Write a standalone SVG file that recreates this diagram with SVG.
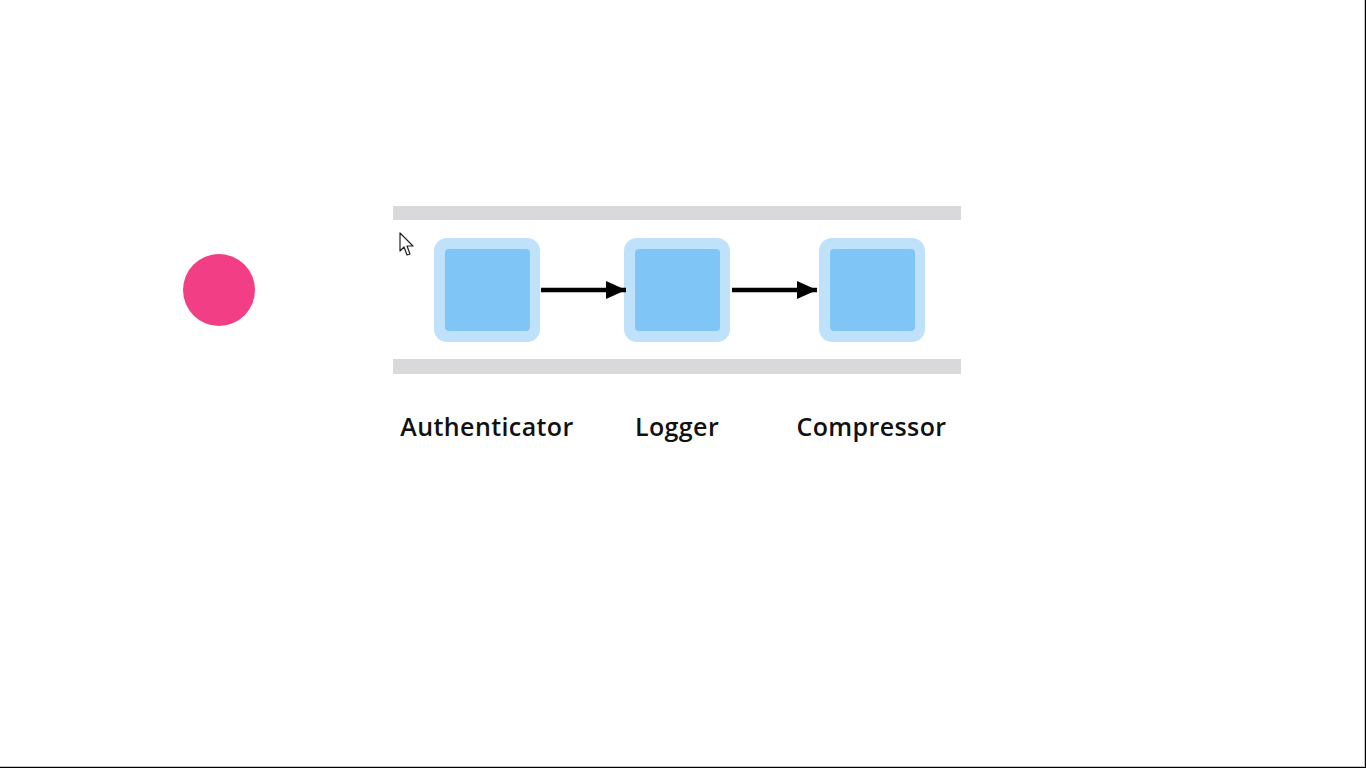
<svg xmlns="http://www.w3.org/2000/svg" width="1366" height="768" viewBox="0 0 1366 768">
<defs>
<style>
.bar{fill:#d9d9db}
.outer{fill:#bfe1fa}
.inner{fill:#7fc6f7}
.lbl{font-family:"Open Sans","Liberation Sans",sans-serif;font-size:25px;font-weight:600;letter-spacing:0.4px;fill:#111;text-anchor:middle}
.conn{stroke:#000;stroke-width:4.5;fill:none}
</style>
<marker id="ah" markerWidth="20" markerHeight="18" refX="20" refY="9" orient="auto" markerUnits="userSpaceOnUse">
<path d="M0,0 L20,9 L0,18 Z" fill="#000"/>
</marker>
</defs>
<rect width="1366" height="768" fill="#fff"/>
<line x1="1364.5" y1="0" x2="1364.5" y2="767" stroke="#c8c8cc" stroke-width="1"/>
<line x1="0" y1="766.5" x2="1365" y2="766.5" stroke="#c8c8cc" stroke-width="1"/>
<rect x="1365" y="0" width="1" height="768" fill="#000"/>
<rect x="0" y="767" width="1366" height="1" fill="#000"/>
<g id="rails">
<rect class="bar" x="393" y="206" width="568" height="14"/>
<rect class="bar" x="393" y="359" width="568" height="15"/>
</g>
<g id="source">
<circle cx="219" cy="290" r="36" fill="#f23e84"/>
</g>
<g id="authenticator">
<rect class="outer" x="434" y="238" width="106" height="104" rx="13"/>
<rect class="inner" x="445" y="249" width="85" height="82" rx="4"/>
<text class="lbl" x="487" y="436">Authenticator</text>
</g>
<g id="logger">
<rect class="outer" x="624" y="238" width="106" height="104" rx="13"/>
<rect class="inner" x="635" y="249" width="85" height="82" rx="4"/>
<text class="lbl" x="677" y="436">Logger</text>
</g>
<g id="compressor">
<rect class="outer" x="819" y="238" width="106" height="104" rx="13"/>
<rect class="inner" x="830" y="249" width="85" height="82" rx="4"/>
<text class="lbl" x="871.5" y="436">Compressor</text>
</g>
<g id="connectors">
<line class="conn" x1="541" y1="290" x2="626" y2="290" marker-end="url(#ah)"/>
<line class="conn" x1="732" y1="290" x2="817" y2="290" marker-end="url(#ah)"/>
</g>
<g id="cursor">
<path d="M400,233 L400,251 L404,247 L407,255 L410,254 L407,246 L413,246 Z" fill="#fff" stroke="#222" stroke-width="1.2" stroke-linejoin="round"/>
</g>
</svg>
